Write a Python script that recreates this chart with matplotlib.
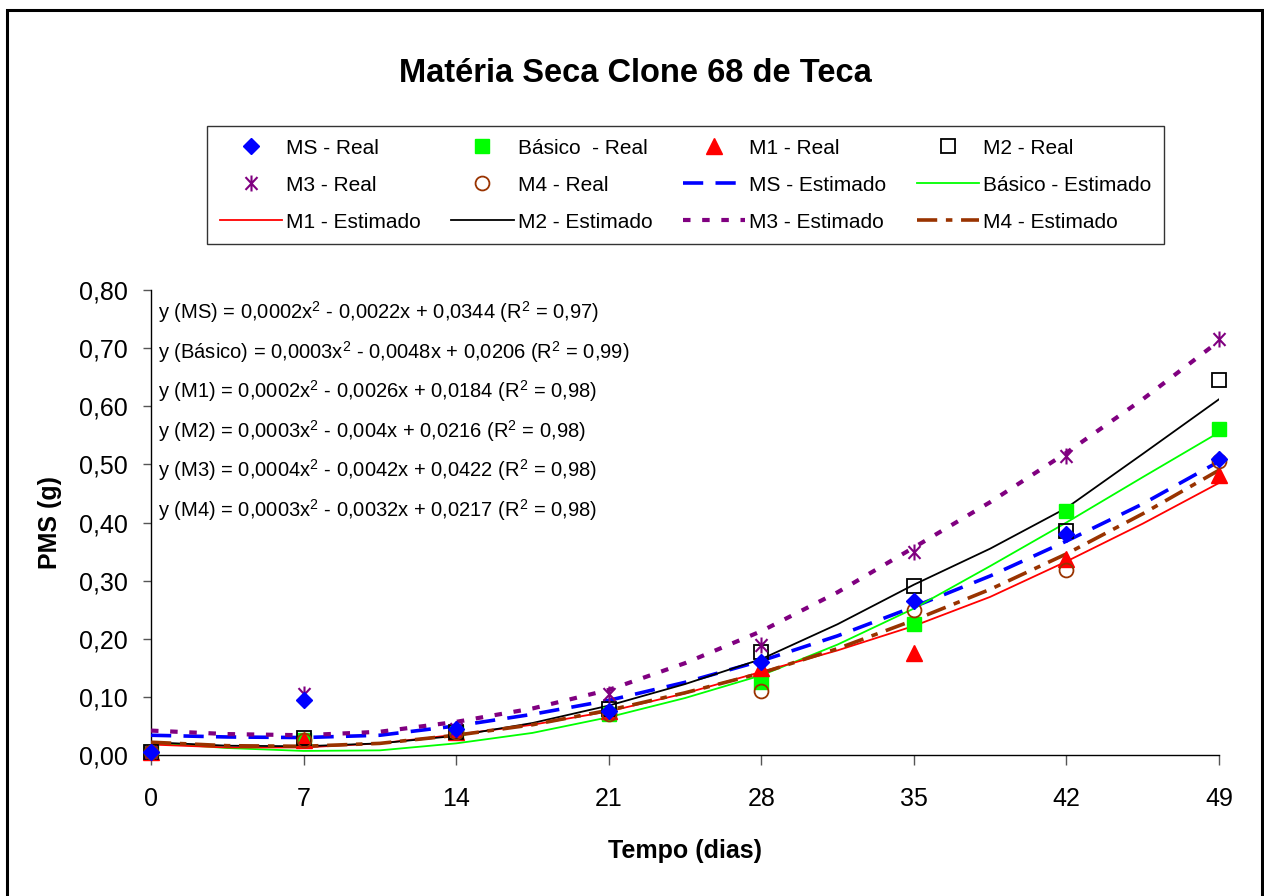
import numpy as np
import matplotlib
matplotlib.use('Agg')
import matplotlib.pyplot as plt
from matplotlib.path import Path
from matplotlib.patches import Rectangle

plt.rcParams['font.family'] = ['Liberation Sans', 'DejaVu Sans']

# observed values (days)
dias = [0, 7, 14, 21, 28, 35, 42, 49]
ms_real = [0.005, 0.095, 0.045, 0.075, 0.160, 0.265, 0.380, 0.510]
bas_real = [0.005, 0.025, 0.040, 0.070, 0.125, 0.225, 0.420, 0.560]
m1_real = [0.005, 0.025, 0.040, 0.075, 0.150, 0.175, 0.338, 0.482]
m2_real = [0.005, 0.030, 0.040, 0.080, 0.178, 0.290, 0.385, 0.645]
m3_real = [0.005, 0.105, 0.045, 0.105, 0.190, 0.350, 0.515, 0.715]
m4_real = [0.005, 0.025, 0.040, 0.070, 0.110, 0.250, 0.318, 0.505]

# estimated curves
dias_est = [0, 3.5, 7, 10.5, 14, 17.5, 21, 24.5, 28, 31.5, 35, 38.5, 42, 45.5, 49]
ms_est = [0.034, 0.031, 0.030, 0.034, 0.050, 0.070, 0.094, 0.125, 0.162, 0.205, 0.255, 0.308, 0.368, 0.432, 0.505]
bas_est = [0.021, 0.012, 0.007, 0.008, 0.020, 0.038, 0.065, 0.098, 0.137, 0.190, 0.252, 0.325, 0.400, 0.478, 0.555]
m1_est = [0.018, 0.013, 0.013, 0.020, 0.035, 0.052, 0.075, 0.106, 0.143, 0.180, 0.222, 0.272, 0.333, 0.398, 0.468]
m2_est = [0.022, 0.016, 0.015, 0.020, 0.033, 0.055, 0.085, 0.122, 0.165, 0.225, 0.293, 0.355, 0.425, 0.518, 0.612]
m3_est = [0.042, 0.036, 0.034, 0.040, 0.057, 0.080, 0.112, 0.158, 0.213, 0.280, 0.357, 0.435, 0.520, 0.612, 0.712]
m4_est = [0.022, 0.016, 0.015, 0.020, 0.034, 0.052, 0.077, 0.107, 0.141, 0.183, 0.232, 0.285, 0.346, 0.415, 0.490]

equacoes = [
  'y (MS) = 0,0002x$^2$ - 0,0022x + 0,0344 (R$^2$ = 0,97)',
  'y (Básico) = 0,0003x$^2$ - 0,0048x + 0,0206 (R$^2$ = 0,99)',
  'y (M1) = 0,0002x$^2$ - 0,0026x + 0,0184 (R$^2$ = 0,98)',
  'y (M2) = 0,0003x$^2$ - 0,004x + 0,0216 (R$^2$ = 0,98)',
  'y (M3) = 0,0004x$^2$ - 0,0042x + 0,0422 (R$^2$ = 0,98)',
  'y (M4) = 0,0003x$^2$ - 0,0032x + 0,0217 (R$^2$ = 0,98)',
]
eq_y = [0.762, 0.693, 0.626, 0.557, 0.490, 0.421]

yticks = [0, 0.1, 0.2, 0.3, 0.4, 0.5, 0.6, 0.7, 0.8]
ylabels = ['0,00', '0,10', '0,20', '0,30', '0,40', '0,50', '0,60', '0,70', '0,80']

plt.rcParams['mathtext.fontset'] = 'custom'
plt.rcParams['mathtext.rm'] = 'Liberation Sans'
plt.rcParams['mathtext.it'] = 'Liberation Sans'

# asterisk marker like the excel one
star = Path([(0, -1), (0, 1), (-0.75, -0.8), (0.75, 0.8), (-0.75, 0.8), (0.75, -0.8)],
            [Path.MOVETO, Path.LINETO, Path.MOVETO, Path.LINETO, Path.MOVETO, Path.LINETO])

fig = plt.figure(figsize=(12.64, 8.96), dpi=100)
ax = fig.add_axes([151/1264, 141/896, 1068/1264, 465/896])

blue = '#0000FF'
green = '#00FF00'
red = '#FF0000'
purple = '#800080'
brown = '#993300'

h = {}
h['ms_r'], = ax.plot(dias, ms_real, linestyle='', marker='D', markersize=8.5, color=blue, label='MS - Real', clip_on=False, zorder=5)
h['bas_r'], = ax.plot(dias, bas_real, linestyle='', marker='s', markersize=10, color=green, label='Básico  - Real', clip_on=False, zorder=4)
h['m1_r'], = ax.plot(dias, m1_real, linestyle='', marker='^', markersize=11, color=red, label='M1 - Real', clip_on=False, zorder=4)
h['m2_r'], = ax.plot(dias, m2_real, linestyle='', marker='s', markersize=10.5, markerfacecolor='none',
                     markeredgecolor='black', markeredgewidth=1.3, label='M2 - Real', clip_on=False, zorder=4)
h['m3_r'], = ax.plot(dias, m3_real, linestyle='', marker=star, markersize=11.5, color=purple,
                     markeredgewidth=1.5, label='M3 - Real', clip_on=False, zorder=4)
h['m4_r'], = ax.plot(dias, m4_real, linestyle='', marker='o', markersize=10, markerfacecolor='none',
                     markeredgecolor=brown, markeredgewidth=1.3, label='M4 - Real', clip_on=False, zorder=4)

h['ms_e'], = ax.plot(dias_est, ms_est, color=blue, lw=2.6, linestyle=(0, (5.6, 3.4)), label='MS - Estimado', zorder=3)
h['bas_e'], = ax.plot(dias_est, bas_est, color=green, lw=1.3, label='Básico - Estimado', zorder=3)
h['m1_e'], = ax.plot(dias_est, m1_est, color=red, lw=1.3, label='M1 - Estimado', zorder=3)
h['m2_e'], = ax.plot(dias_est, m2_est, color='black', lw=1.3, label='M2 - Estimado', zorder=3)
h['m3_e'], = ax.plot(dias_est, m3_est, color=purple, lw=3, linestyle=(0, (1.8, 2.8)), label='M3 - Estimado', zorder=3)
h['m4_e'], = ax.plot(dias_est, m4_est, color=brown, lw=2.6, linestyle=(0, (5.6, 2.4, 1.8, 2.4)), label='M4 - Estimado', zorder=3)

for txt, yy in zip(equacoes, eq_y):
  ax.text(0.3, yy, txt, fontsize=14.5, va='center', ha='left')

ax.set_xlim(0, 49)
ax.set_ylim(0, 0.8)
ax.set_xticks(dias)
ax.set_xticklabels([str(d) for d in dias], fontsize=18)
ax.set_yticks(yticks)
ax.set_yticklabels(ylabels, fontsize=18)
ax.tick_params(axis='x', direction='out', length=7, width=1, color='#555555', pad=16)
ax.tick_params(axis='y', direction='out', length=6, width=1, color='#555555', pad=11)
ax.spines['top'].set_visible(False)
ax.spines['right'].set_visible(False)
ax.spines['left'].set_linewidth(1)
ax.spines['bottom'].set_linewidth(1)
ax.set_xlabel('Tempo (dias)', fontsize=18, fontweight='bold', labelpad=20)
ax.set_ylabel('PMS (g)', fontsize=18, fontweight='bold', labelpad=12)

fig.text(635/1264, 1 - 74/896, 'Matéria Seca Clone 68 de Teca', fontsize=23.5, fontweight='bold',
         ha='center', va='center')

# legend filled column-wise, so reorder to keep excel's row order
order = ['ms_r', 'm3_r', 'm1_e', 'bas_r', 'm4_r', 'm2_e', 'm1_r', 'ms_e', 'm3_e', 'm2_r', 'bas_e', 'm4_e']
leg = fig.legend([h[k] for k in order], [h[k].get_label() for k in order], ncol=4,
                 loc='upper center', bbox_to_anchor=(207/1264, 1 - 243/896, 957/1264, 117/896), mode='expand',
                 fontsize=15, frameon=True, fancybox=False, edgecolor='black', handlelength=3.0,
                 handletextpad=0.2, labelspacing=0.87, borderaxespad=0, columnspacing=0.8,
                 borderpad=0.6)
leg.get_frame().set_linewidth(1)

# outer frame of the chart
fig.patches.append(Rectangle((7/1264, -0.01), 1255/1264, 1 - 10/896 + 0.01, transform=fig.transFigure,
                             fill=False, edgecolor='black', linewidth=2.2))

fig.savefig('out.png', dpi=100)
